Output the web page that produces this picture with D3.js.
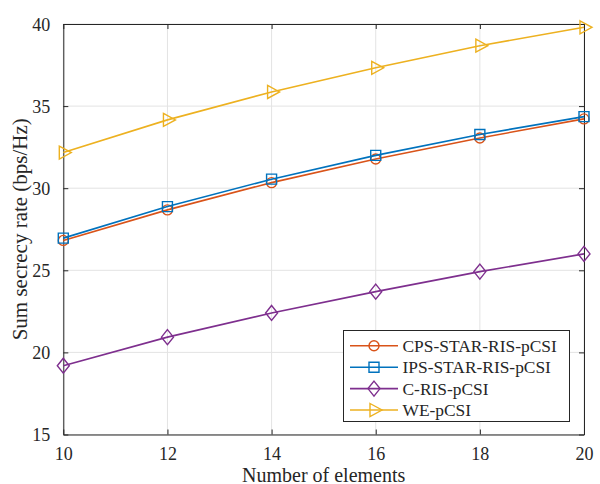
<!DOCTYPE html>
<html>
<head>
<meta charset="utf-8">
<script src="https://cdn.jsdelivr.net/npm/d3@7"></script>
<style>
  html, body { margin: 0; padding: 0; background: #fff; }
  svg { display: block; }
  text { font-family: "Liberation Serif", "Times New Roman", serif; fill: #262626; }
</style>
</head>
<body>
<svg id="chart" width="600" height="484"></svg>
<script>
// Number of reflecting elements
const elements = [10, 12, 14, 16, 18, 20];

// Sum secrecy rate (bps/Hz) per scheme
const cpsStarRis = [26.82, 28.68, 30.34, 31.78, 33.06, 34.22];
const ipsStarRis = [26.96, 28.88, 30.55, 32.00, 33.27, 34.36];
const cRis       = [19.19, 20.93, 22.40, 23.70, 24.92, 26.00];
const wePcsi     = [32.17, 34.16, 35.86, 37.33, 38.68, 39.80];

const seriesNames = ["CPS-STAR-RIS-pCSI", "IPS-STAR-RIS-pCSI", "C-RIS-pCSI", "WE-pCSI"];
const seriesValues = [cpsStarRis, ipsStarRis, cRis, wePcsi];
const seriesColors = ["#D95319", "#0072BD", "#7E2F8E", "#EDB120"];
const seriesMarkers = ["circle", "square", "diamond", "triangleRight"];

const xTicks = [10, 12, 14, 16, 18, 20];
const yTicks = [15, 20, 25, 30, 35, 40];

const svg = d3.select("#chart");
const plotLeft = 63.3, plotRight = 584, plotTop = 24, plotBottom = 434.5;

const x = d3.scaleLinear().domain([10, 20]).range([plotLeft, plotRight]);
const y = d3.scaleLinear().domain([15, 40]).range([plotBottom, plotTop]);

const axisColor = "#262626";
const gridColor = "#e3e3e3";

// grid
const grid = svg.append("g");
grid.selectAll(".gx").data(xTicks).join("line")
  .attr("x1", d => x(d)).attr("x2", d => x(d))
  .attr("y1", plotTop).attr("y2", plotBottom)
  .attr("stroke", gridColor).attr("stroke-width", 1);
grid.selectAll(".gy").data(yTicks).join("line")
  .attr("x1", plotLeft).attr("x2", plotRight)
  .attr("y1", d => y(d)).attr("y2", d => y(d))
  .attr("stroke", gridColor).attr("stroke-width", 1);

// axes (ticks pointing inward on all four sides)
const tickLen = 5;
const xAxisB = svg.append("g").attr("transform", `translate(0,${plotBottom})`)
  .call(d3.axisBottom(x).tickValues(xTicks).tickSizeInner(-tickLen).tickSizeOuter(0).tickPadding(12.5));
const xAxisT = svg.append("g").attr("transform", `translate(0,${plotTop})`)
  .call(d3.axisTop(x).tickValues(xTicks).tickSizeInner(-tickLen).tickSizeOuter(0).tickFormat(""));
const yAxisL = svg.append("g").attr("transform", `translate(${plotLeft},0)`)
  .call(d3.axisLeft(y).tickValues(yTicks).tickSizeInner(-tickLen).tickSizeOuter(0).tickPadding(13));
const yAxisR = svg.append("g").attr("transform", `translate(${plotRight},0)`)
  .call(d3.axisRight(y).tickValues(yTicks).tickSizeInner(-tickLen).tickSizeOuter(0).tickFormat(""));

[xAxisB, xAxisT, yAxisL, yAxisR].forEach(g => {
  g.select(".domain").attr("stroke", axisColor).attr("stroke-width", 1);
  g.selectAll(".tick line").attr("stroke", axisColor).attr("stroke-width", 1);
  g.selectAll(".tick text")
    .style("font-family", '"Liberation Serif", "Times New Roman", serif')
    .style("font-size", "18px").attr("fill", axisColor);
});
yAxisL.selectAll(".tick text").attr("dy", "0.34em");

// marker shapes
function markerPath(type) {
  switch (type) {
    case "circle": return d3.symbol(d3.symbolCircle, Math.PI * 5 * 5)();
    case "square": return "M-5,-5H5V5H-5Z";
    case "diamond": return "M0,-7.5L6,0L0,7.5L-6,0Z";
    case "triangleRight": return "M-4,-6.5L8,0L-4,6.5Z";
  }
}

const line = d3.line().x((d, i) => x(elements[i])).y(d => y(d));

const plot = svg.append("g");
seriesValues.forEach((vals, s) => {
  plot.append("path")
    .attr("d", line(vals))
    .attr("fill", "none")
    .attr("stroke", seriesColors[s])
    .attr("stroke-width", 1.6);
  plot.selectAll(null).data(vals).join("path")
    .attr("d", markerPath(seriesMarkers[s]))
    .attr("transform", (d, i) => `translate(${x(elements[i])},${y(d)})`)
    .attr("fill", "none")
    .attr("stroke", seriesColors[s])
    .attr("stroke-width", 1.4);
});

// legend
const lg = svg.append("g");
lg.append("rect")
  .attr("x", 343.5).attr("y", 330.5).attr("width", 226).attr("height", 91)
  .attr("fill", "#fff").attr("stroke", axisColor).attr("stroke-width", 1);
const rowY = d3.scaleLinear().domain([0, 3]).range([345.8, 410]);
seriesNames.forEach((name, s) => {
  const yy = rowY(s);
  lg.append("line").attr("x1", 350).attr("x2", 398).attr("y1", yy).attr("y2", yy)
    .attr("stroke", seriesColors[s]).attr("stroke-width", 1.6);
  lg.append("path").attr("d", markerPath(seriesMarkers[s]))
    .attr("transform", `translate(374,${yy})`)
    .attr("fill", "none").attr("stroke", seriesColors[s]).attr("stroke-width", 1.4);
  lg.append("text").attr("x", 402.5).attr("y", yy).attr("dy", "0.34em")
    .style("font-size", "17.4px").text(name);
});

// axis titles
svg.append("text")
  .attr("x", (plotLeft + plotRight) / 2).attr("y", 481.5)
  .attr("text-anchor", "middle")
  .style("font-size", "20px")
  .text("Number of elements");

svg.append("text")
  .attr("transform", `translate(26.5,${(plotTop + plotBottom) / 2}) rotate(-90)`)
  .attr("text-anchor", "middle")
  .style("font-size", "21px")
  .text("Sum secrecy rate (bps/Hz)");
</script>
</body>
</html>
